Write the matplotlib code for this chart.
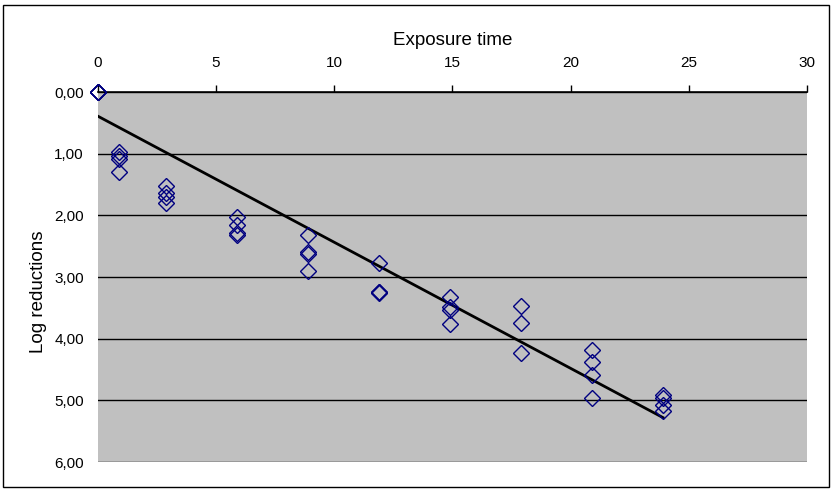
import numpy as np
import matplotlib.pyplot as plt
from matplotlib.patches import Rectangle

plt.rcParams['font.family'] = ['Liberation Sans', 'DejaVu Sans']

times = [0, 0, 0, 0,
         0.9, 0.9, 0.9, 0.9,
         2.9, 2.9, 2.9, 2.9,
         5.9, 5.9, 5.9, 5.9,
         8.9, 8.9, 8.9, 8.9,
         11.9, 11.9, 11.9, 11.9,
         14.9, 14.9, 14.9, 14.9,
         17.9, 17.9, 17.9,
         20.9, 20.9, 20.9, 20.9,
         23.9, 23.9, 23.9, 23.9]
log_red = [0, 0, 0, 0,
           0.97, 1.04, 1.09, 1.30,
           1.53, 1.64, 1.70, 1.80,
           2.03, 2.16, 2.29, 2.32,
           2.32, 2.59, 2.62, 2.90,
           2.77, 3.24, 3.25, 3.26,
           3.33, 3.48, 3.53, 3.76,
           3.47, 3.74, 4.24,
           4.18, 4.37, 4.59, 4.96,
           4.91, 4.96, 5.07, 5.18]

# linear trendline as shown on the chart
trend_intercept = 0.39
trend_slope = 0.2046

x_ticks = [0, 5, 10, 15, 20, 25, 30]
y_ticks = [0, 1, 2, 3, 4, 5, 6]
y_labels = ['0,00', '1,00', '2,00', '3,00', '4,00', '5,00', '6,00']

fig = plt.figure(figsize=(8.32, 4.90), dpi=100)
ax = fig.add_axes([0.1174, 0.0571, 0.8529, 0.7551])
ax.set_facecolor('#c0c0c0')

tx = np.array([min(times), max(times)])
ax.plot(tx, trend_intercept + trend_slope * tx, color='black', lw=2, zorder=3)

ax.plot(times, log_red, linestyle='none', marker='D', ms=8.5,
        mfc='none', mec='#000080', mew=1.0, zorder=4, clip_on=False)

ax.set_xlim(0, 30)
ax.set_ylim(6, 0)
ax.xaxis.tick_top()
ax.xaxis.set_label_position('top')
ax.set_xticks(x_ticks)
ax.set_yticks(y_ticks)
ax.set_yticklabels(y_labels)
ax.tick_params(axis='x', direction='out', length=5, width=1, pad=11, labelsize=11)
ax.tick_params(axis='y', length=0, pad=10, labelsize=11)

for s in ['left', 'right', 'bottom']:
    ax.spines[s].set_visible(False)
ax.spines['top'].set_linewidth(1.2)

ax.yaxis.grid(True, color='black', lw=1)
ax.set_axisbelow(True)

ax.set_xlabel('Exposure time', fontsize=13.5, labelpad=8)
ax.set_ylabel('Log reductions', fontsize=13.5)
ax.yaxis.set_label_coords(-0.072, 0.46)

fig.add_artist(Rectangle((0.004, 0.006), 0.992, 0.984, transform=fig.transFigure,
                         fill=False, ec='black', lw=1))

fig.savefig('out.png', dpi=100)
